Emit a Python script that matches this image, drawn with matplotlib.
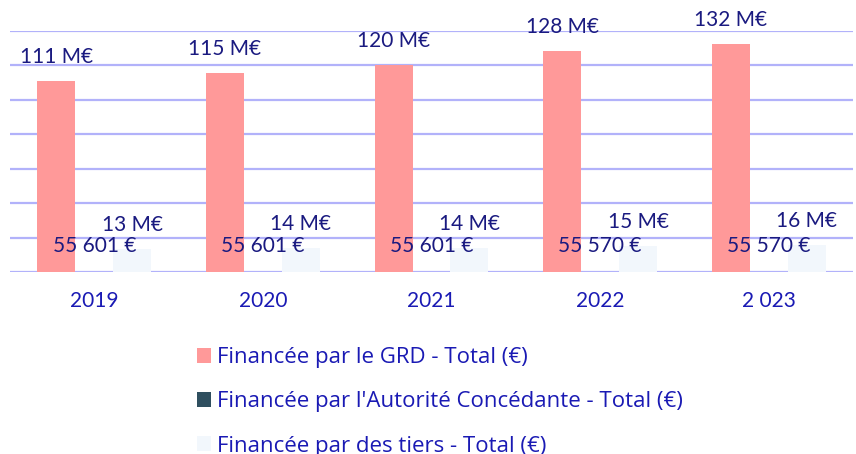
import numpy as np
import matplotlib
matplotlib.use('Agg')
from matplotlib import pyplot as plt

# data
years = ['2019', '2020', '2021', '2022', '2 023']
grd = [111.2, 115.4, 120.3, 128.2, 132.4]          # M€
autorite = [55601, 55601, 55601, 55570, 55570]     # €
tiers = [13.4, 13.9, 14.2, 15.3, 15.8]             # M€

series_names = ['Financée par le GRD - Total (€)',
                "Financée par l'Autorité Concédante - Total (€)",
                'Financée par des tiers - Total (€)']
colors = ['#ff9999', '#2f4f5f', '#f2f7fc']

plt.rcParams['font.family'] = ['Lato', 'DejaVu Sans']
label_col = '#1a1a80'
tick_col = '#1a1ab4'

fig = plt.figure(figsize=(8.56, 4.54), dpi=100)
ax = fig.add_axes([10/856, 182/454, 843/856, 241/454])

x = np.arange(len(years))
w = 0.225
aut_m = [v / 1e6 for v in autorite]
b1 = ax.bar(x - w, grd, w, color=colors[0], label=series_names[0], zorder=3)
b2 = ax.bar(x, aut_m, w, color=colors[1], label=series_names[1], zorder=3)
b3 = ax.bar(x + w, tiers, w, color=colors[2], label=series_names[2], zorder=3)

for i in range(len(years)):
    ax.annotate(f'{round(grd[i])} M€', (x[i] - w, grd[i]), xytext=(0, 13),
                textcoords='offset points', ha='center', va='baseline',
                fontsize=15, color=label_col, annotation_clip=False)
    ax.annotate(f'{autorite[i]:,} €'.replace(',', ' '), (x[i], aut_m[i]), xytext=(0, 14),
                textcoords='offset points', ha='center', va='baseline',
                fontsize=15, color=label_col, zorder=5)
    ax.annotate(f'{round(tiers[i])} M€', (x[i] + w, tiers[i]), xytext=(0, 13),
                textcoords='offset points', ha='center', va='baseline',
                fontsize=15, color=label_col)

ax.set_xlim(-0.5, len(years) - 0.5)
ax.set_ylim(0, 140)
ax.set_yticks(np.arange(0, 141, 20))
ax.yaxis.grid(True, color='#b2b2fa', linewidth=1.6, zorder=0)
ax.set_yticklabels([])
ax.tick_params(axis='y', length=0)
ax.set_xticks(x)
ax.set_xticklabels(years, fontsize=15, color=tick_col)
ax.tick_params(axis='x', length=0, pad=14)
for s in ax.spines.values():
    s.set_visible(False)

fig.legend(handles=[b1, b2, b3], loc='upper left', bbox_to_anchor=(177/856, 1 - 327/454),
           frameon=False, prop={'family': 'Open Sans', 'size': 16}, labelcolor=tick_col,
           handlelength=0.65, handleheight=0.65, handletextpad=0.25, labelspacing=1.05)

fig.savefig('out.png', dpi=100)
